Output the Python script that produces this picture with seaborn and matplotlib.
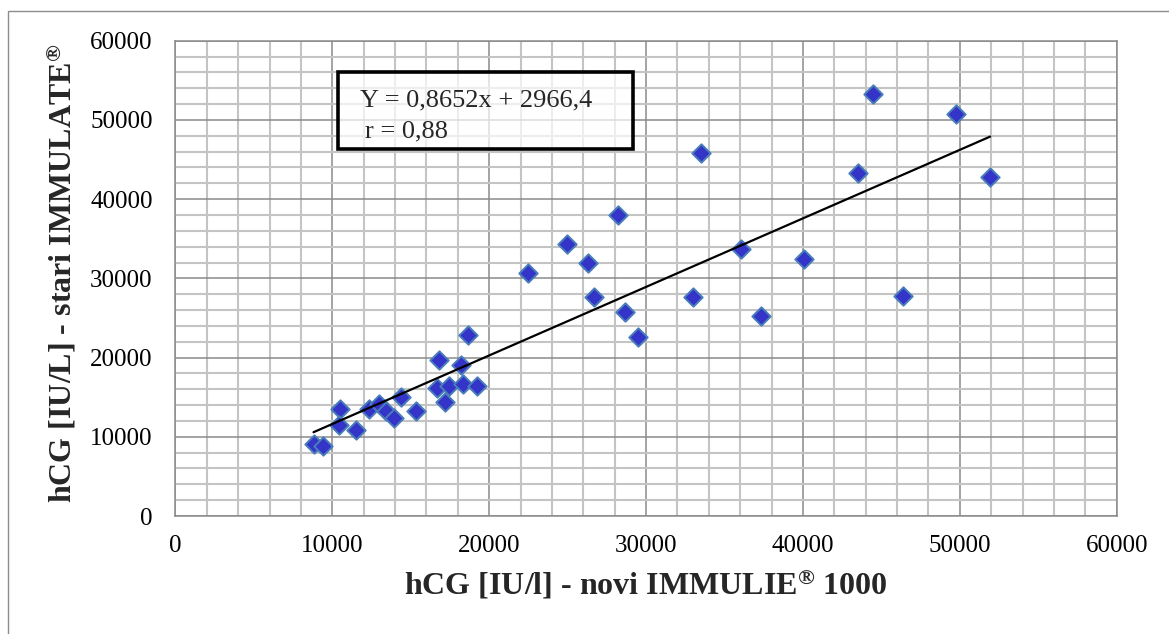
import numpy as np
import pandas as pd
import matplotlib
matplotlib.use("Agg")
import matplotlib.pyplot as plt
from matplotlib.patches import Rectangle
from matplotlib.ticker import MultipleLocator
import seaborn as sns

# ---- data ----
novi_immulite = [8800, 9400, 10470, 10400, 11490, 12320, 12980, 13450, 13910,
                 14360, 15320, 16640, 16770, 17170, 17450, 18190, 18300, 18620,
                 19230, 22500, 24950, 26300, 26700, 28200, 28680, 29480, 32980,
                 33520, 36070, 37340, 40050, 43480, 44450, 46360, 49770, 51930]
stari_immulate = [9080, 8820, 13570, 11470, 10920, 13450, 14200, 13240, 12310,
                  15040, 13280, 16220, 19660, 14370, 16390, 19030, 16720, 22900,
                  16390, 30630, 34280, 31890, 27610, 38050, 25810, 22580, 27690,
                  45810, 33650, 25260, 32470, 43330, 53230, 27740, 50750, 42790]
slope = 0.8652
intercept = 2966.4
axis_ticks = [0, 10000, 20000, 30000, 40000, 50000, 60000]
equation_text = "Y = 0,8652x + 2966,4"
r_text = "r = 0,88"
x_label = "hCG [IU/l] - novi IMMULIE$^{\\mathbf{®}}$ 1000"
y_label = "hCG [IU/L] - stari IMMULATE$^{\\mathbf{®}}$"

df = pd.DataFrame({"x": novi_immulite, "y": stari_immulate})

sns.set_style("white")
plt.rcParams["font.family"] = ["Liberation Serif", "DejaVu Serif"]
plt.rcParams["mathtext.fontset"] = "custom"
plt.rcParams["mathtext.rm"] = "Liberation Serif"
plt.rcParams["mathtext.bf"] = "Liberation Serif:bold"
plt.rcParams["mathtext.it"] = "Liberation Serif:italic"

fig = plt.figure(figsize=(11.69, 6.34), dpi=100)
fig.patch.set_facecolor("white")
ax = fig.add_axes([0.1501, 0.1861, 0.8052, 0.7497])

# outer chart border (left and top visible)
fig.patches.append(Rectangle((8 / 1169, -0.1), 1.2, 1.1 - 11 / 634,
                             transform=fig.transFigure, fill=False,
                             edgecolor="#8c8c8c", lw=1.0, zorder=0))

sns.scatterplot(data=df, x="x", y="y", ax=ax, marker="D", s=88,
                color="#3434c8", edgecolor="#4a7ebb", linewidth=1.4, zorder=3)

xs = np.array([min(novi_immulite), max(novi_immulite)])
sns.lineplot(x=xs, y=slope * xs + intercept, ax=ax, color="black", lw=1.6,
             zorder=4)

ax.set_xlim(0, 60000)
ax.set_ylim(0, 60000)
ax.set_xticks(axis_ticks)
ax.set_yticks(axis_ticks)
ax.set_xticklabels([str(t) for t in axis_ticks])
ax.set_yticklabels([str(t) for t in axis_ticks])
ax.xaxis.set_minor_locator(MultipleLocator(2000))
ax.yaxis.set_minor_locator(MultipleLocator(2000))
ax.set_axisbelow(True)
ax.grid(which="minor", color="#c4c4c4", lw=1.5)
ax.grid(which="major", color="#8a8a8a", lw=1.1)
ax.tick_params(which="minor", length=0)
ax.tick_params(which="major", direction="out", length=5, width=1,
               color="#8a8a8a", labelsize=18, labelcolor="black")
ax.tick_params(axis="x", pad=8.5)
ax.tick_params(axis="y", pad=11.5)
for sp in ax.spines.values():
    sp.set_color("#8a8a8a")
    sp.set_linewidth(1.1)

ax.set_xlabel(x_label, fontsize=23, fontweight="bold", labelpad=8)
ax.set_ylabel(y_label, fontsize=23, fontweight="bold")
ax.yaxis.set_label_coords(-0.1025, 0.511)

# equation box
ax.add_patch(Rectangle((0.1727, 0.7722), 0.3134, 0.1619, transform=ax.transAxes,
                       facecolor=(1, 1, 1, 0.7), edgecolor="black", lw=2.6,
                       zorder=5))
ax.text(0.196, 0.8612, equation_text, transform=ax.transAxes, fontsize=19,
        va="baseline", ha="left", zorder=6)
ax.text(0.2013, 0.7974, r_text, transform=ax.transAxes, fontsize=19,
        va="baseline", ha="left", zorder=6)

fig.savefig("out.png", dpi=100, facecolor="white")
